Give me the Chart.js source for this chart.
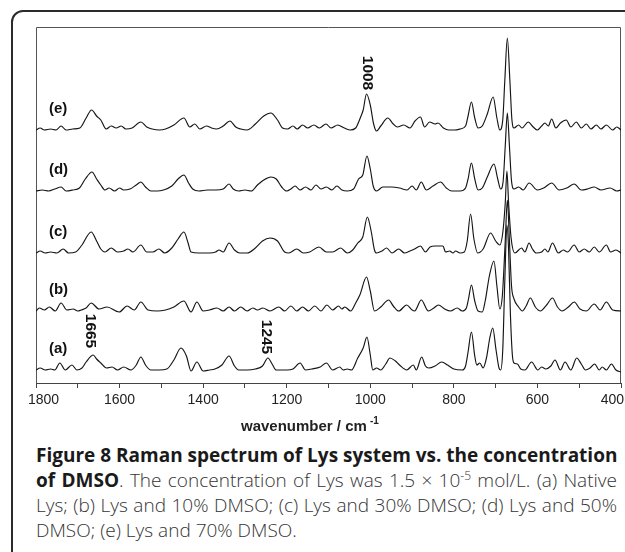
<!DOCTYPE html>
<html>
<head>
<meta charset="utf-8">
<script src="https://cdn.jsdelivr.net/npm/chart.js@4.4.1/dist/chart.umd.min.js"></script>
<style>
html,body{margin:0;padding:0;background:#fff;width:625px;height:552px;overflow:hidden;position:relative;}
#frame{position:absolute;left:11px;top:10px;width:720px;height:620px;border:2px solid #2b2b2b;border-radius:12px;box-sizing:border-box;}
#wrap{position:absolute;left:0;top:0;width:625px;height:440px;}
#cap{position:absolute;left:36px;top:443px;width:581px;font-family:"Open Sans","Noto Sans",sans-serif;font-size:19px;line-height:25px;color:#333;font-weight:300;}
#cap b{font-weight:700;color:#1a1a1a;}
#cap .j{text-align:justify;text-align-last:justify;white-space:nowrap;}
#cap sup{font-size:12px;line-height:0;vertical-align:7px;}
</style>
</head>
<body>
<div id="frame"></div>
<div id="wrap"><canvas id="c" width="625" height="440"></canvas></div>
<div id="cap">
<div class="j"><b>Figure 8 Raman spectrum of Lys system vs. the concentration</b></div>
<div class="j"><b>of DMSO</b>. The concentration of Lys was 1.5 × 10<sup>-5</sup> mol/L. (a) Native</div>
<div class="j">Lys; (b) Lys and 10% DMSO; (c) Lys and 30% DMSO; (d) Lys and 50%</div>
<div>DMSO; (e) Lys and 70% DMSO.</div>
</div>
<script>
// ---- data: [wavenumber (cm^-1), intensity above the spectrum's own baseline] ----
const seriesNames = ['(a)', '(b)', '(c)', '(d)', '(e)'];
const stackOffsets = [13, 72, 130, 192, 253];   // vertical offsets of the stacked spectra

const specA = [[1800,0],[1790,2],[1778,0],[1765,1],[1755,0],[1743,7],[1730,0],[1714,5],[1702,0],[1690,2],[1680,8],[1663,15],[1655,11],[1645,7],[1631,2],[1618,3],[1605,0],[1590,3],[1573,0],[1560,5],[1549,13],[1538,5],[1525,0],[1505,0],[1487,1],[1470,10],[1453,22],[1440,14],[1429,-1],[1415,8],[1400,-1],[1385,0],[1372,1],[1355,5],[1338,14],[1325,4],[1315,0],[1295,0],[1275,1],[1258,4],[1245,12],[1235,6],[1225,0],[1200,0],[1185,1],[1168,7],[1155,0],[1140,1],[1120,3],[1105,7],[1090,0],[1073,3],[1065,0],[1055,1],[1045,0],[1030,12],[1017,22],[1008,33],[1000,15],[994,0],[985,2],[975,0],[963,6],[953,12],[940,9],[930,5],[913,0],[897,5],[890,0],[877,13],[868,4],[860,2],[845,4],[829,8],[815,5],[800,1],[780,0],[772,4],[766,18],[758,38],[750,14],[745,5],[738,7],[730,2],[722,12],[714,32],[707,42],[699,20],[692,2],[688,0],[683,20],[678,90],[673,145],[669,120],[665,60],[660,15],[656,7],[648,6],[640,1],[630,0],[614,8],[599,0],[590,3],[580,1],[568,4],[558,10],[545,0],[534,8],[520,0],[506,12],[495,6],[485,0],[474,2],[463,6],[452,0],[445,3],[435,0],[423,6],[412,0],[400,-2]];

const specB = [[1800,0],[1792,3],[1780,1],[1768,4],[1754,0],[1740,8],[1726,1],[1711,2],[1700,0],[1692,1],[1680,3],[1668,8],[1649,2],[1630,4],[1601,-1],[1582,5],[1565,1],[1549,9],[1532,1],[1510,0],[1490,1],[1470,4],[1446,10],[1429,-1],[1415,9],[1400,0],[1385,1],[1367,3],[1352,0],[1338,4],[1325,0],[1310,4],[1295,0],[1281,3],[1270,1],[1257,3],[1240,0],[1219,4],[1205,0],[1190,5],[1176,0],[1162,4],[1148,0],[1133,5],[1118,0],[1104,6],[1090,1],[1076,5],[1068,2],[1061,4],[1047,0],[1035,8],[1025,16],[1009,34],[1000,20],[990,0],[975,4],[956,11],[945,5],[932,0],[913,6],[900,1],[894,0],[878,11],[861,0],[848,3],[837,6],[822,2],[808,0],[792,3],[780,0],[770,3],[765,12],[758,26],[750,10],[742,0],[732,-1],[725,10],[715,35],[704,50],[697,25],[690,2],[684,15],[677,70],[672,111],[667,70],[662,25],[656,12],[645,4],[636,0],[627,5],[617,13],[605,4],[593,0],[578,6],[564,13],[552,4],[541,0],[526,4],[512,9],[498,2],[483,0],[464,7],[450,1],[435,9],[420,1],[400,0]];

const specC = [[1800,0],[1790,2],[1778,0],[1765,1],[1750,0],[1735,4],[1722,0],[1705,1],[1690,8],[1668,21],[1655,12],[1645,4],[1635,1],[1620,5],[1605,1],[1590,2],[1580,4],[1568,1],[1549,8],[1535,1],[1520,1],[1506,4],[1492,0],[1475,5],[1460,14],[1446,21],[1436,10],[1429,1],[1410,0],[1385,0],[1370,1],[1362,3],[1352,1],[1338,10],[1325,3],[1312,0],[1295,0],[1275,5],[1258,12],[1240,15],[1222,12],[1205,1],[1195,0],[1176,4],[1160,0],[1145,1],[1123,6],[1105,1],[1090,1],[1071,5],[1055,0],[1042,3],[1030,10],[1018,16],[1007,36],[998,22],[990,3],[985,0],[972,2],[961,5],[948,0],[932,4],[918,0],[905,2],[894,4],[880,7],[868,1],[857,6],[845,7],[835,7],[826,7],[820,1],[810,2],[802,0],[796,2],[785,0],[775,1],[768,12],[760,39],[752,14],[743,0],[730,4],[712,20],[700,12],[690,8],[683,20],[677,50],[673,82],[669,50],[663,15],[654,0],[638,5],[630,1],[620,10],[612,4],[603,0],[590,1],[582,4],[575,1],[564,10],[550,0],[538,3],[528,1],[512,8],[500,1],[488,4],[476,1],[464,6],[452,1],[435,8],[425,1],[412,3],[400,0]];

const specD = [[1800,0],[1785,1],[1770,0],[1755,2],[1740,4],[1728,0],[1712,1],[1696,3],[1682,12],[1666,19],[1655,12],[1645,6],[1635,1],[1625,3],[1612,0],[1600,3],[1590,1],[1575,2],[1560,6],[1549,9],[1538,4],[1525,0],[1510,0],[1495,1],[1475,5],[1460,12],[1446,16],[1435,8],[1425,2],[1410,0],[1390,1],[1370,1],[1352,2],[1338,7],[1328,2],[1315,0],[1300,1],[1285,0],[1270,6],[1255,11],[1238,14],[1225,12],[1212,4],[1200,0],[1190,2],[1180,5],[1168,1],[1155,4],[1142,1],[1130,6],[1118,2],[1105,4],[1092,1],[1080,5],[1068,1],[1055,0],[1040,2],[1028,12],[1018,16],[1008,35],[1000,22],[993,5],[985,0],[970,4],[950,4],[930,3],[912,1],[900,5],[890,1],[878,9],[866,1],[850,5],[832,9],[818,3],[805,0],[785,0],[772,3],[766,12],[758,28],[750,12],[742,1],[732,3],[720,14],[704,27],[695,12],[688,2],[682,10],[677,45],[672,78],[667,45],[662,10],[656,2],[645,4],[634,1],[620,8],[600,1],[585,3],[566,8],[548,1],[530,3],[512,7],[495,1],[480,2],[464,4],[448,1],[426,3],[410,0],[400,1]];

const specE = [[1800,0],[1790,2],[1780,0],[1765,1],[1752,0],[1740,4],[1728,0],[1712,1],[1695,2],[1680,12],[1667,20],[1655,14],[1645,10],[1632,1],[1620,4],[1608,2],[1596,4],[1585,1],[1570,2],[1549,8],[1535,3],[1522,1],[1505,0],[1490,1],[1470,5],[1446,12],[1432,3],[1420,6],[1408,1],[1392,4],[1380,2],[1368,1],[1352,4],[1336,9],[1322,3],[1310,1],[1295,0],[1275,6],[1255,14],[1238,17],[1222,10],[1210,2],[1198,1],[1185,4],[1175,1],[1162,5],[1150,2],[1135,5],[1122,2],[1106,6],[1094,2],[1078,5],[1062,2],[1048,0],[1035,2],[1024,12],[1017,20],[1009,36],[1000,25],[992,6],[985,-1],[975,4],[958,12],[945,6],[935,3],[920,5],[905,2],[893,9],[880,13],[870,3],[858,8],[845,6],[838,7],[825,2],[812,0],[798,0],[785,1],[772,4],[766,14],[758,28],[750,12],[742,2],[732,4],[720,16],[706,33],[697,12],[690,0],[683,10],[678,50],[672,92],[666,50],[661,10],[656,2],[645,5],[637,2],[622,8],[610,3],[600,0],[590,4],[582,7],[574,4],[566,11],[556,2],[545,7],[531,10],[520,3],[507,8],[495,2],[483,6],[472,1],[459,5],[448,1],[435,5],[420,0],[410,3],[400,0]];

const spectra = [specA, specB, specC, specD, specE];

// x-axis
const xMin = 400, xMax = 1800, xStep = 100;
const tickLabels = [1800, 1600, 1400, 1200, 1000, 800, 600, 400];
const axisTitle = 'wavenumber / cm';
const axisTitleSup = '-1';

// peak annotations
const peakLabels = ['1665', '1245', '1008'];
const peakWaves = [1670, 1250, 1008];
const peakOnSeries = [0, 0, 4];
const peakLabelLift = [39, 33, 57];   // centre of label above that spectrum's baseline
const seriesLabelWave = 1769;
const seriesLabelLift = 21;

// ---- plugins ----
const framePlugin = {
  id: 'frame',
  beforeDatasetsDraw(chart) {
    const {ctx, chartArea: a} = chart;
    ctx.save();
    ctx.strokeStyle = '#555';
    ctx.lineWidth = 1;
    ctx.beginPath();
    ctx.moveTo(Math.round(a.left) + 0.5, Math.round(a.bottom));
    ctx.lineTo(Math.round(a.left) + 0.5, Math.round(a.top) + 0.5);
    ctx.lineTo(Math.round(a.right) - 0.5, Math.round(a.top) + 0.5);
    ctx.lineTo(Math.round(a.right) - 0.5, Math.round(a.bottom));
    ctx.stroke();
    ctx.restore();
  }
};

const textPlugin = {
  id: 'texts',
  afterDraw(chart) {
    const {ctx, chartArea: a} = chart;
    const xs = chart.scales.x, ys = chart.scales.y;
    ctx.save();
    ctx.fillStyle = '#222';
    // tick labels
    ctx.font = '14px "Liberation Sans", Arial, sans-serif';
    ctx.textAlign = 'center';
    ctx.textBaseline = 'top';
    tickLabels.forEach(v => {
      const s = String(v);
      const hw = ctx.measureText(s).width / 2;
      let x = xs.getPixelForValue(v);
      x = Math.min(Math.max(x, 28 + hw), 624 - hw);
      ctx.fillText(s, x, a.bottom + 10);
    });
    // axis title with superscript
    ctx.font = 'bold 15px "Liberation Sans", Arial, sans-serif';
    ctx.textAlign = 'left';
    ctx.textBaseline = 'alphabetic';
    const tx = 241, ty = 431;
    ctx.fillText(axisTitle, tx, ty);
    const tw = ctx.measureText(axisTitle).width;
    ctx.font = 'bold 10px "Liberation Sans", Arial, sans-serif';
    ctx.fillText(axisTitleSup, tx + tw + 3, ty - 7);
    // series labels
    ctx.font = 'bold 15px "Liberation Sans", Arial, sans-serif';
    ctx.fillStyle = '#111';
    ctx.textBaseline = 'middle';
    seriesNames.forEach((n, i) => {
      ctx.fillText(n, xs.getPixelForValue(seriesLabelWave), ys.getPixelForValue(stackOffsets[i] + seriesLabelLift));
    });
    // rotated peak labels
    ctx.font = 'bold 15.5px "Liberation Sans", Arial, sans-serif';
    ctx.textAlign = 'center';
    peakLabels.forEach((t, i) => {
      const x = xs.getPixelForValue(peakWaves[i]);
      const y = ys.getPixelForValue(stackOffsets[peakOnSeries[i]] + peakLabelLift[i]);
      ctx.save();
      ctx.translate(x, y);
      ctx.rotate(Math.PI / 2);
      ctx.fillText(t, 0, 0);
      ctx.restore();
    });
    ctx.restore();
  }
};

new Chart(document.getElementById('c'), {
  type: 'line',
  data: {
    datasets: spectra.map((s, i) => ({
      label: seriesNames[i],
      data: s.map(p => ({x: p[0], y: p[1] + stackOffsets[i]})),
      borderColor: '#151515',
      borderWidth: 1.15,
      pointRadius: 0,
      fill: false,
      cubicInterpolationMode: 'monotone'
    }))
  },
  options: {
    responsive: false,
    animation: false,
    events: [],
    layout: {padding: {left: 36, right: 4, top: 27, bottom: 0}},
    plugins: {legend: {display: false}, tooltip: {enabled: false}},
    scales: {
      x: {
        type: 'linear', reverse: true, min: xMin, max: xMax,
        ticks: {stepSize: xStep, display: false},
        grid: {drawOnChartArea: false, drawTicks: true, tickLength: 5, color: '#444', lineWidth: 1},
        border: {display: true, color: '#444', width: 1},
        afterFit(s) { s.height = 57; s.paddingLeft = 0; s.paddingRight = 0; }
      },
      y: {display: false, min: 0, max: 356}
    }
  },
  plugins: [framePlugin, textPlugin]
});
</script>
</body>
</html>
